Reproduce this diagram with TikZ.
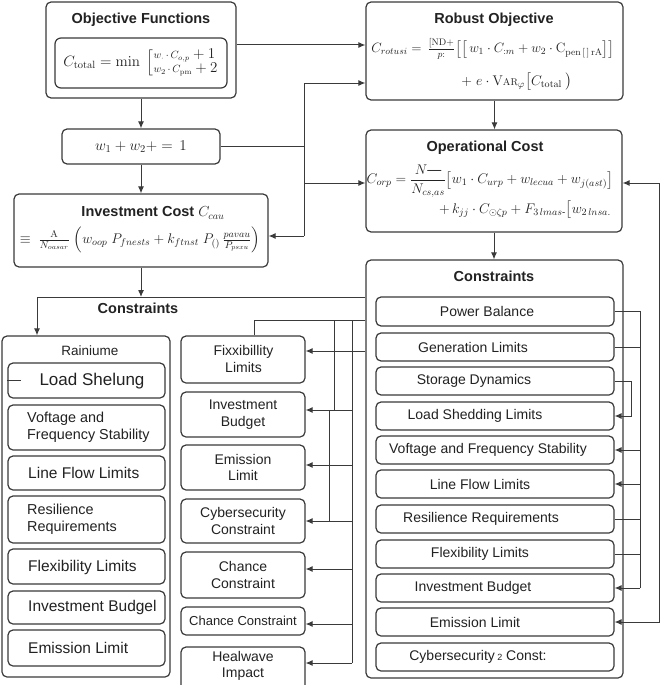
\RequirePackage{fix-cm}
\documentclass[tikz,border=0pt]{standalone}
\usepackage{amsmath}
\usepackage[no-math]{fontspec}
\setmainfont{Liberation Sans}
\usetikzlibrary{arrows.meta,calc}
\definecolor{linec}{HTML}{3A3A3A}
\definecolor{txtc}{HTML}{222222}
\newcommand\cbox[9][]{%
  \pgfmathsetmacro\cbcx{(#3+#5)/2}%
  \pgfmathsetmacro\cbcy{(#4+#6)/2}%
  \pgfmathsetmacro\cbw{#5-#3}%
  \pgfmathsetmacro\cbh{#6-#4}%
  \node[box,minimum width=\cbw pt,minimum height=\cbh pt] (#2) at (\cbcx,\cbcy) {};%
  \node[txt,#1] (#2t) at (#7,#8) {#9};}
\begin{document}
\begin{tikzpicture}[x=1pt,y=-1pt,
  box/.style={draw=linec,line width=1.2pt,rounded corners=5pt,inner sep=0pt,fill=white},
  txt/.style={inner sep=0pt,text=txtc,align=center,font=\fontsize{14}{16.5}\selectfont},
  ttl/.style={inner sep=0pt,text=txtc,font=\fontsize{14.5}{17}\selectfont\bfseries},
  lft/.style={align=left,anchor=west,font=\fontsize{15.5}{18}\selectfont},
  lft2/.style={align=left,anchor=west,font=\fontsize{14.4}{17}\selectfont},
  mth/.style={inner sep=0pt,text=txtc,font=\fontsize{14}{17}\selectfont},
  conn/.style={draw=linec,line width=1pt},
  arr/.style={conn,-{Latex[length=7pt,width=6pt]}},
  arrb/.style={conn,{Latex[length=7pt,width=6pt]}-{Latex[length=7pt,width=6pt]}},
  ]
\useasboundingbox (0,0) rectangle (661,685);

% Objective functions
\node[box,minimum width=190pt,minimum height=96pt] (objout) at (141,50) {};
\node[ttl] (objt) at (141,20) {Objective Functions};
\node[box,minimum width=172pt,minimum height=50pt,rounded corners=6pt,text=txtc,font=\fontsize{15}{18}\selectfont] (objf) at (141,63)
  {$C_{\mathrm{total}}=\min\ \renewcommand\arraystretch{0.75}\left[\begin{array}{@{}l@{}}{\scriptstyle w_{\cdot}\,\cdot\, C_{o,p}}+1\\ {\scriptstyle w_{2}\,\cdot\, C_{\mathrm{pm}}}+2\end{array}\right.$};

% Robust objective
\node[box,minimum width=257pt,minimum height=98pt] (rob) at (494.5,51) {};
\node[ttl] (robt) at (494,20) {Robust Objective};
\node[mth,font=\fontsize{13.5}{16}\selectfont] (robf1) at (493,49) {$C_{rotusi}=\,\frac{\mathrm{[ND+}}{p:}\big[\big[\,w_1\cdot C_{:m}+w_2\cdot \mathrm{C}_{\mathrm{pen}\,[\,]\,\mathrm{rA}}\big]\big]$};
\node[mth] (robf2) at (517,82) {$+\;e\cdot \mathrm{V}{\scriptstyle\mathrm{AR}}_{\varphi}\big[C_{\mathrm{total}}\ \big)$};

% weights
\node[box,minimum width=158pt,minimum height=35pt,text=txtc,font=\fontsize{15}{18}\selectfont] (wb) at (141,146.5) {$w_1+w_2+=\,1$};

% Investment cost
\node[box,minimum width=254pt,minimum height=73pt] (inv) at (141,230.5) {};
\node[ttl] (invt) at (153,213) {Investment Cost {\fontseries{m}\selectfont$C_{cau}$}};
\node[mth] (invf) at (140,240) {$\equiv\ \frac{\mathrm{A}}{N_{oasar}}\ \Big(w_{oop}\ P_{fnests}+k_{ftnst}\ P_{()}\,\frac{pavau}{P_{psxu}}\Big)$};

% Operational cost
\node[box,minimum width=256pt,minimum height=102pt] (opc) at (494,181) {};
\node[ttl] (opct) at (485,148) {Operational Cost};
\node[mth] (opcf1) at (490,181) {$C_{orp}=\dfrac{N\text{—}}{N_{cs,as}}\big[w_1\cdot C_{urp}+w_{lecua}+w_{j(ast)}\big]$};
\node[mth] (opcf2) at (525,210) {$+\,k_{jj}\cdot C_{\odot\zeta p}+F_{3\,lmas\text{-}}\big[w_{2\,lnsa.}$};

% Right constraints
\node[box,minimum width=257pt,minimum height=418pt] (rc) at (494.5,469) {};
\node[ttl] (rct) at (494,276) {Constraints};
\cbox{p1}{376}{297}{614}{326}{487}{311.5}{Power Balance}
\cbox{p2}{376}{333}{614}{361}{473}{347}{Generation Limits}
\cbox{p3}{376}{367}{614}{395}{474}{381}{Storage Dynamics}
\cbox{p4}{376}{402}{614}{430}{475}{416}{Load Shedding Limits}
\cbox{p5}{376}{436}{614}{464}{488}{450}{Voftage and Frequency Stability}
\cbox{p6}{376}{470}{614}{498}{480}{484}{Line Flow Limits}
\cbox{p7}{376}{505}{614}{533}{481}{519}{Resilience Requirements}
\cbox{p8}{376}{540}{614}{568}{480}{554}{Flexibility Limits}
\cbox{p9}{376}{574}{614}{602}{473}{588}{Investment Budget}
\cbox{p10}{376}{608}{614}{636}{475}{622}{Emission Limit}
\cbox{p11}{376}{643}{614}{671}{478}{657}{Cybersecurity\,{\fontsize{9}{9}\selectfont 2} Const:}

% Middle column
\cbox{m1}{181}{336}{305}{383}{243.5}{359}{Fixxibillity\\Limits}
\cbox{m2}{181}{392}{305}{437}{243}{414.5}{Investment\\Budget}
\cbox{m3}{181}{445}{305}{490}{243}{467.5}{Emission\\Limit}
\cbox{m4}{181}{499}{305}{543}{243}{521}{Cybersecurity\\Constraint}
\cbox{m5}{181}{552}{305}{598}{243}{575}{Chance\\Constraint}
\cbox[font=\fontsize{13}{15}\selectfont]{m6}{181}{607}{305}{635}{243}{621}{Chance Constraint}
\cbox{m7}{181}{647}{305}{695}{243}{666}{Healwave\\Impact}

% Left column
\node[ttl] (lct) at (138,308) {Constraints};
\node[box,minimum width=168pt,minimum height=341pt] (lc) at (86,506.5) {};
\node[txt,font=\fontsize{13.5}{16}\selectfont] (lcr) at (90,351) {Rainiume};
\cbox[font=\fontsize{17}{20}\selectfont]{l1}{8}{363}{165}{398}{92}{381}{Load Shelung}
\cbox[lft2]{l2}{8}{405}{165}{450}{27}{427}{Voftage and\\Frequency Stability}
\cbox[lft]{l3}{8}{456}{165}{490}{28}{473}{Line Flow Limits}
\cbox[lft2]{l4}{8}{496}{165}{543}{27}{519.5}{Resilience\\Requirements}
\cbox[lft]{l5}{8}{549}{165}{584}{28}{567}{Flexibility Limits}
\cbox[lft]{l6}{8}{591}{165}{624}{28}{607.5}{Investment Budgel}
\cbox[lft]{l7}{8}{630}{165}{666}{28}{648}{Emission Limit}
\draw[conn] (l1.west) -- ++(14,0);

% Connectors top-left
\draw[arr] (objout.south) -- (wb.north);
\draw[arr] (wb.south) -- (inv.north);
\draw[arr] (objout.east |- 0,45) -- (rob.west |- 0,45);
\coordinate (bt) at (304,83);
\coordinate (bb) at (304,236);
\draw[conn] (bt) -- (bb);
\draw[arr] (bt) -- (rob.west |- bt);
\draw[conn] (wb.east) -- (wb.east -| bt);
\draw[arr] (bt |- 0,183) -- (opc.west |- 0,183);
\draw[arr] (bb) -- (inv.east |- bb);
\draw[arr] (rob.south) -- (rob.south |- opc.north);
\draw[arr] (opc.south) -- (opc.south |- rc.north);

% Constraint distribution
\coordinate (h1) at (37,297);
\draw[conn] (h1) -- (rc.west |- h1);
\draw[arr] (inv.south) -- (inv.south |- h1);
\draw[arr] (h1) -- (h1 |- lc.north);
\coordinate (k1) at (254,320);
\draw[conn] (rc.west |- k1) -- (k1) -- (k1 |- m1.north);
\draw[arr] (rc.west |- 0,351) -- (m1.east |- 0,351);
\coordinate (va) at (334,320);
\coordinate (vb) at (352,320);
\draw[conn] (va) -- (va |- 0,410);
\draw[conn] (vb) -- (vb |- 0,663);
\draw[conn] (329,410) -- (329,521);
\foreach \n/\yy in {m2/410,m3/465,m4/521,m5/569,m6/624,m7/663}
  \draw[arr] (vb |- 0,\yy) -- (\n.east |- 0,\yy);

% Right side
\coordinate (rt) at (640,311.5);
\draw[conn] (p1.east) -- (rt) -- (rt |- p9.east);
\draw[arr] (rt |- p9.east) -- (p9.east);
\draw[conn] (p2.east) -- (p2.east -| rt);
\draw[conn] (p7.east) -- (p7.east -| rt);
\draw[conn] (p8.east) -- (p8.east -| rt);
\draw[arr] (p5.east -| rt) -- (p5.east);
\draw[arr] (p6.east -| rt) -- (p6.east);
\coordinate (s1) at (631,381);
\draw[arr] (p3.east) -- (p3.east -| s1) |- (p4.east);
\coordinate (o1) at (659,183);
\draw[arrb] (p10.east) -- (p10.east -| o1) -- (o1) -- (opc.east |- o1);
\end{tikzpicture}
\end{document}
